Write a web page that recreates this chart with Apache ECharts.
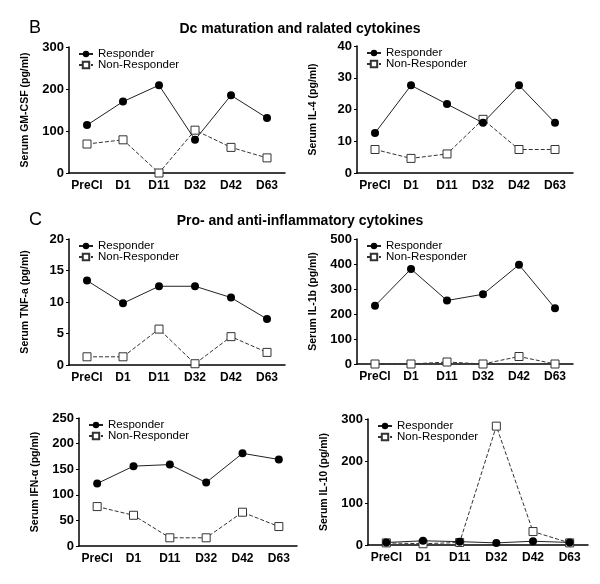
<!DOCTYPE html>
<html><head><meta charset="utf-8">
<script src="https://cdn.jsdelivr.net/npm/echarts@6/dist/echarts.min.js"></script>
<style>html,body{margin:0;padding:0;background:#fff}#c{width:600px;height:584px}</style>
</head><body><div id="c"></div>
<script>
const categories = ['PreCl','D1','D11','D32','D42','D63'];
const seriesNames = ['Responder','Non-Responder'];

const gmcsfResp = [114, 170, 209, 79, 185, 131];
const gmcsfNon  = [69, 79, 0, 102, 61, 36];
const il4Resp   = [12.6, 27.6, 21.7, 15.8, 27.6, 15.8];
const il4Non    = [7.4, 4.6, 6.0, 16.9, 7.4, 7.4];
const tnfResp   = [13.4, 9.8, 12.5, 12.5, 10.7, 7.3];
const tnfNon    = [1.3, 1.3, 5.7, 0.2, 4.5, 2.0];
const il1bResp  = [233, 380, 254, 279, 397, 223];
const il1bNon   = [0, 0, 8, 0, 30, 0];
const ifnResp   = [122, 156, 159, 124, 181, 169];
const ifnNon    = [77, 60, 16, 16, 66, 38];
const il10Resp  = [6, 10, 8, 5, 9, 6];
const il10Non   = [5, 3, 6, 283, 32, 5];

const yNames = ['Serum GM-CSF (pg/ml)','Serum IL-4 (pg/ml)','Serum TNF-a (pg/ml)','Serum IL-1b (pg/ml)','Serum IFN-\u03b1 (pg/ml)','Serum IL-10 (pg/ml)'];
const yMax = [300, 40, 20, 500, 250, 300];
const yInterval = [100, 10, 5, 100, 50, 100];

const panelData = [
  [gmcsfResp, gmcsfNon], [il4Resp, il4Non], [tnfResp, tnfNon],
  [il1bResp, il1bNon], [ifnResp, ifnNon], [il10Resp, il10Non]
];

const layout = [
  {left:69, top:47, width:216, height:126},
  {left:357, top:46, width:216, height:127},
  {left:69, top:239, width:216, height:126},
  {left:357, top:239, width:216, height:125},
  {left:79, top:418, width:218, height:128},
  {left:368, top:419, width:220, height:126}
];

const font = 'Liberation Sans, Arial, sans-serif';
const grid = [], xAxis = [], yAxis = [], series = [], legend = [];
layout.forEach((g, i) => {
  grid.push({left:g.left, top:g.top, width:g.width, height:g.height});
  xAxis.push({
    type:'category', gridIndex:i, data:categories, boundaryGap:true,
    axisLine:{lineStyle:{color:'#000', width:1.5}},
    axisTick:{alignWithLabel:true, length:3, lineStyle:{color:'#000'}},
    axisLabel:{color:'#000', fontWeight:'bold', fontSize:12, fontFamily:font, margin:7, interval:0}
  });
  yAxis.push({
    type:'value', gridIndex:i, min:0, max:yMax[i], interval:yInterval[i],
    name:yNames[i], nameLocation:'middle', nameRotate:90, nameGap:38,
    nameTextStyle:{color:'#000', fontSize:10.5, fontWeight:'bold', fontFamily:font},
    axisLine:{show:true, lineStyle:{color:'#000', width:1.5}},
    axisTick:{show:true, length:3, lineStyle:{color:'#000'}},
    splitLine:{show:false},
    axisLabel:{color:'#000', fontWeight:'bold', fontSize:13, fontFamily:font, margin:5}
  });
  series.push({
    name:seriesNames[0], type:'line', xAxisIndex:i, yAxisIndex:i, data:panelData[i][0],
    symbol:'circle', symbolSize:8, showAllSymbol:true,
    lineStyle:{color:'#222', width:1}, itemStyle:{color:'#000'}, z:3
  });
  series.push({
    name:seriesNames[1], type:'line', xAxisIndex:i, yAxisIndex:i, data:panelData[i][1],
    symbol:'rect', symbolSize:8, showAllSymbol:true,
    lineStyle:{color:'#333', width:1, type:'dashed'},
    itemStyle:{color:'#fff', borderColor:'#333', borderWidth:1}, z:2
  });
  legend.push({
    orient:'vertical', left:g.left + 4, top:g.top - 4, itemGap:-1, itemWidth:14, itemHeight:8,
    data:seriesNames, textStyle:{color:'#000', fontSize:11.5, fontFamily:font},
    selectedMode:false
  });
});

const chart = echarts.init(document.getElementById('c'), null, {renderer:'canvas'});
chart.setOption({
  animation:false,
  backgroundColor:'#fff',
  title:[
    {text:'B', left:24, top:14, textStyle:{fontSize:18, fontWeight:'normal', color:'#000', fontFamily:font}},
    {text:'Dc maturation and ralated cytokines', left:'center', top:17, textStyle:{fontSize:14, fontWeight:'bold', color:'#000', fontFamily:font}},
    {text:'C', left:24, top:206, textStyle:{fontSize:18, fontWeight:'normal', color:'#000', fontFamily:font}},
    {text:'Pro- and anti-inflammatory cytokines', left:'center', top:209, textStyle:{fontSize:14, fontWeight:'bold', color:'#000', fontFamily:font}}
  ],
  grid, xAxis, yAxis, series, legend
});
</script></body></html>
